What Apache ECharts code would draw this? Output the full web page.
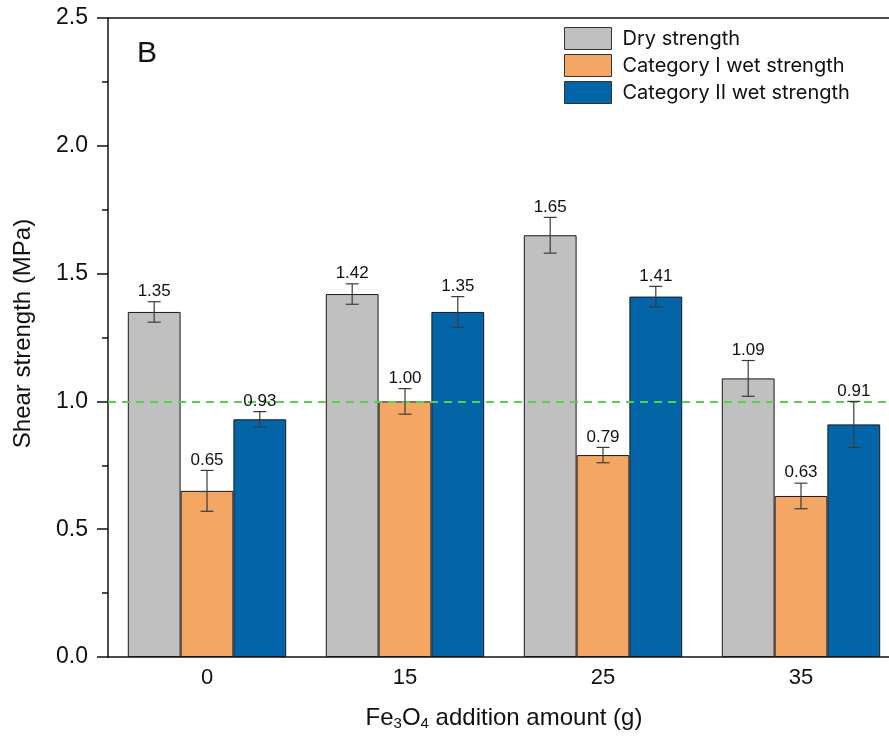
<!DOCTYPE html>
<html>
<head>
<meta charset="utf-8">
<script src="https://cdn.jsdelivr.net/npm/echarts@6/dist/echarts.min.js"></script>
<style>html,body{margin:0;padding:0;background:#fff}#c{width:889px;height:736px}</style>
</head>
<body>
<div id="c"></div>
<script>
const categories = ['0', '15', '25', '35'];
const seriesNames = ['Dry strength', 'Category I wet strength', 'Category II wet strength'];
const dryValues = [1.35, 1.42, 1.65, 1.09];
const dryErrors = [0.04, 0.04, 0.07, 0.07];
const wet1Values = [0.65, 1.00, 0.79, 0.63];
const wet1Errors = [0.08, 0.05, 0.03, 0.05];
const wet2Values = [0.93, 1.35, 1.41, 0.91];
const wet2Errors = [0.03, 0.06, 0.04, 0.09];
const yTicks = [0, 0.5, 1.0, 1.5, 2.0, 2.5];
const thresholdValue = 1.0;

const colors = ['#c0c0c0', '#f4a664', '#0364a8'];
const FONT = '"Liberation Sans", Arial, sans-serif';
const LFONT = 'Inter, "Liberation Sans", sans-serif';
const valuesAll = [dryValues, wet1Values, wet2Values];
const errorsAll = [dryErrors, wet1Errors, wet2Errors];
const catGapRatio = 0.2;

function errSeries(k) {
  const data = valuesAll[k].map((v, i) => [i, v, errorsAll[k][i]]);
  return {
    type: 'custom',
    name: seriesNames[k] + ' err',
    data: data,
    z: 5,
    encode: { x: 0, y: 1 },
    renderItem: function (params, api) {
      const i = api.value(0), v = api.value(1), e = api.value(2);
      const cx0 = api.coord([i, 0])[0];
      const band = api.size([1, 0])[0];
      const bw = band * (1 - catGapRatio) / 3;
      const cx = cx0 + (k - 1) * bw;
      const top = api.coord([i, v + e])[1];
      const bot = api.coord([i, v - e])[1];
      const cap = 6.5;
      const st = { stroke: '#3a3a3a', lineWidth: 1.2 };
      return {
        type: 'group',
        children: [
          { type: 'line', shape: { x1: cx, y1: top, x2: cx, y2: bot }, style: st },
          { type: 'line', shape: { x1: cx - cap, y1: top, x2: cx + cap, y2: top }, style: st },
          { type: 'line', shape: { x1: cx - cap, y1: bot, x2: cx + cap, y2: bot }, style: st },
          { type: 'text', x: cx, y: top - 2, style: { text: v.toFixed(2), fill: '#111', font: '17px ' + FONT, textAlign: 'center', textVerticalAlign: 'bottom' } }
        ]
      };
    }
  };
}

const barSeries = valuesAll.map((vals, k) => ({
  type: 'bar',
  name: seriesNames[k],
  data: vals,
  barGap: '0%',
  barCategoryGap: (catGapRatio * 100) + '%',
  itemStyle: { color: colors[k], borderColor: '#1a1a1a', borderWidth: 1 },
  z: 2
}));

const chart = echarts.init(document.getElementById('c'), null, { renderer: 'canvas' });
chart.setOption({
  animation: false,
  backgroundColor: '#fff',
  textStyle: { fontFamily: FONT },
  grid: { left: 108, top: 18, width: 792, height: 639, outerBoundsMode: 'none', containLabel: false, show: false },
  legend: {
    data: seriesNames,
    orient: 'vertical',
    left: 564, top: 27,
    padding: 0,
    itemWidth: 47, itemHeight: 22, itemGap: 4,
    icon: 'rect',
    itemStyle: { borderColor: '#333', borderWidth: 1 },
    textStyle: { fontSize: 20, color: '#111', fontFamily: LFONT, padding: [0, 0, 0, 6] }
  },
  xAxis: [{
    type: 'category',
    data: categories,
    axisLine: { lineStyle: { color: '#111', width: 1.5 } },
    axisTick: { show: false },
    axisLabel: { fontSize: 22, color: '#111', margin: 10, fontFamily: FONT },
    name: 'Fe{sub|3}O{sub|4} addition amount (g)',
    nameLocation: 'middle',
    nameGap: 48,
    nameTextStyle: {
      fontSize: 24, color: '#111', fontFamily: FONT,
      rich: { sub: { fontSize: 15, color: '#111', fontFamily: FONT, padding: [11, 0, 0, 0] } }
    }
  }, {
    type: 'category',
    position: 'top',
    data: categories,
    axisLine: { show: true, lineStyle: { color: '#111', width: 1.5 } },
    axisTick: { show: false },
    axisLabel: { show: false },
    splitLine: { show: false }
  }],
  yAxis: {
    type: 'value',
    min: yTicks[0], max: yTicks[yTicks.length - 1], interval: 0.5,
    axisLine: { show: true, lineStyle: { color: '#111', width: 1.5 } },
    axisTick: { show: true, length: 11, lineStyle: { color: '#111', width: 1.5 } },
    minorTick: { show: true, splitNumber: 2, length: 6, lineStyle: { color: '#111', width: 1.5 } },
    splitLine: { show: false },
    axisLabel: { fontSize: 23, color: '#111', margin: 20, fontFamily: FONT, formatter: v => v.toFixed(1) },
    name: 'Shear strength (MPa)',
    nameLocation: 'middle',
    nameRotate: 90,
    nameGap: 73,
    nameTextStyle: { fontSize: 24, color: '#111', fontFamily: FONT, padding: [0, 0, 0, 8] }
  },
  graphic: [
    { type: 'text', left: 137, top: 39, style: { text: 'B', font: '30px ' + FONT, fill: '#111' } }
  ],
  series: barSeries.concat([errSeries(0), errSeries(1), errSeries(2)]).concat([{
    type: 'line',
    name: 'threshold',
    data: [],
    z: 10,
    markLine: {
      silent: true,
      symbol: 'none',
      label: { show: false },
      lineStyle: { color: '#55d055', type: [8, 6], width: 2 },
      data: [{ yAxis: thresholdValue }]
    }
  }])
});
</script>
</body>
</html>
